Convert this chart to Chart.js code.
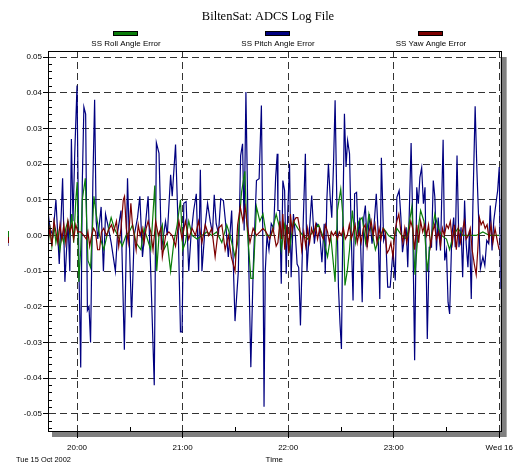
<!DOCTYPE html>
<html>
<head>
<meta charset="utf-8">
<script src="https://cdn.jsdelivr.net/npm/chart.js@4.4.1/dist/chart.umd.min.js"></script>
<style>
  html, body { margin: 0; padding: 0; background: #fff; }
  #wrap { width: 518px; height: 465px; }
</style>
</head>
<body>
<div id="wrap"><canvas id="adcs" width="518" height="465"></canvas></div>
<script>
// minutes relative to 20:00 on Tue 15 Oct 2002, angle errors in radians
const hourTicks = [0, 60, 120, 180, 240];
const hourLabels = ['20:00', '21:00', '22:00', '23:00', 'Wed 16'];
const errorTicks = [0.05, 0.04, 0.03, 0.02, 0.01, 0, -0.01, -0.02, -0.03, -0.04, -0.05];
const seriesNames = ['SS Roll Angle Error', 'SS Pitch Angle Error', 'SS Yaw Angle Error'];

const pitchTime = [-16.3, -15.4, -13.7, -12.0, -10.1, -8.2, -6.9, -5.1, -4.1, -3.2, -2.3, -1.3, 0, 1.1, 2.1, 3.0, 3.9, 4.9, 5.9, 6.8,
  7.7, 9.0, 10.0, 10.9, 11.8, 13.7, 15.0, 16.2, 17.5, 19.4, 21.8, 23.1, 25.0, 26.9, 28.7, 31.0, 32.5, 34.4, 35.7, 37.2,
  38.7, 40.4, 41.9, 43.9, 45.1, 46.6, 48.0, 50.3, 51.3, 53.2, 54.1, 56.0, 57.5, 58.8, 59.7, 60.7, 62.0, 63.5, 64.8, 66.3,
  67.8, 69.1, 70.1, 71.0, 72.9, 74.2, 75.7, 77.0, 78.0, 79.1, 80.4, 81.7, 83.2, 84.5, 86.0, 87.9, 89.8, 91.7, 93.0, 94.1,
  95.0, 96.0, 97.3, 98.8, 100.1, 102.0, 103.5, 104.8, 105.8, 106.3, 107.0, 108.0, 109.1, 110.4, 111.8, 112.9, 113.8, 114.2, 115.2, 116.1,
  117.0, 118.0, 118.9, 119.8, 120.8, 121.7, 123.0, 124.2, 125.1, 126.0, 127.0, 128.3, 129.8, 130.7, 132.1, 133.4, 134.9, 136.2, 137.7, 139.2,
  140.5, 141.1, 142.0, 142.9, 143.9, 144.8, 145.8, 146.7, 147.6, 148.6, 149.5, 150.3, 151.2, 152.0, 152.9, 153.8, 154.9, 155.9, 156.9, 157.8,
  158.9, 159.8, 160.8, 162.1, 163.0, 163.9, 164.9, 166.2, 167.7, 168.9, 170.1, 171.1, 172.1, 173.0, 174.3, 175.4, 176.6, 178.0, 179.6, 180.9,
  181.8, 183.1, 184.1, 185.0, 185.9, 187.1, 188.0, 189.0, 189.9, 190.8, 191.9, 193.1, 194.0, 194.9, 195.9, 196.9, 197.8, 199.1, 200.2, 201.5,
  202.5, 203.4, 204.3, 205.3, 206.6, 208.1, 209.0, 210.0, 210.9, 211.8, 213.0, 214.1, 215.0, 216.0, 217.1, 218.3, 219.2, 220.3, 221.2, 222.2,
  223.1, 224.1, 225.0, 226.3, 227.3, 228.4, 229.3, 230.7, 231.8, 232.9, 234.0, 234.9, 235.9, 236.9, 238.1, 239.1, 240.0, 240.8];
const pitchValue = [0.006, 0.002, 0.000, 0.010, -0.008, 0.016, -0.013, 0.004, -0.010, 0.027, 0.004, 0.023, 0.042, -0.010, -0.037, 0.015, 0.036, 0.034, -0.021, -0.020,
  -0.030, 0.015, 0.038, 0.004, -0.001, 0.008, -0.010, 0.006, 0.003, -0.002, -0.010, 0.001, 0.007, -0.032, 0.016, -0.023, 0.000, 0.005, 0.011, -0.006,
  0.002, 0.011, -0.010, -0.042, 0.026, 0.023, -0.004, 0.004, 0.000, 0.017, 0.011, 0.0255, 0.002, -0.027, -0.027, 0.009, 0.0095, -0.010, 0.000, 0.007,
  0.0117, -0.010, 0.0184, -0.010, 0.003, 0.009, 0.004, 0.0005, 0.0114, 0.0033, 0.0005, 0.0103, 0.0098, 0.0033, -0.006, 0.007, -0.024, -0.010, 0.0224, 0.0257,
  0.0014, 0.0402, -0.0005, -0.0369, -0.010, 0.0154, 0.0159, 0.0364, -0.010, -0.048, -0.010, 0.000, -0.004, 0.0033, 0.002, 0.0163, 0.0229, 0.007, 0.007, -0.0135,
  0.0154, 0.0126, -0.0107, 0.007, 0.0201, -0.0117, 0.006, -0.0005, -0.008, -0.009, -0.0252, -0.0005, 0.0229, -0.010, 0.0014, 0.0112, -0.0023, 0.0033, 0.0023, -0.0075,
  0.0033, -0.0107, 0.0098, 0.0201, 0.0107, 0.005, 0.020, 0.0379, 0.0117, -0.0145, -0.0248, -0.0318, 0.0079, 0.0341, 0.0192, 0.0266, 0.0229, -0.0005, -0.0182, 0.0117,
  0.0121, -0.0005, 0.005, -0.0187, 0.005, 0.0084, -0.0033, 0.006, -0.0023, 0.0033, 0.0117, 0.0014, -0.0178, 0.0218, -0.0014, 0.0005, -0.0145, -0.0145, -0.0042, -0.0126,
  0.0107, 0.0126, 0.005, -0.0047, -0.0014, 0.0023, -0.0089, 0.0089, 0.0259, 0.0042, -0.035, 0.0135, 0.0089, 0.0163, 0.019, 0.0089, 0.0135, -0.029, -0.0033, -0.0033,
  0.0154, 0.0107, -0.0042, 0.005, -0.0042, 0.0268, -0.007, -0.0042, -0.0187, -0.022, -0.0005, 0.005, -0.0033, 0.0224, -0.0033, 0.0023, -0.0117, 0.0098, -0.0023, -0.0089,
  0.0014, -0.0178, 0.0079, 0.0362, 0.0182, 0.0033, -0.0093, -0.006, -0.0084, -0.0014, -0.0023, 0.0084, -0.0042, 0.0042, 0.0089, 0.0126, 0.0192, -0.015];

const rollTime = [-16.3, -15.4, -14.3, -13.1, -12.0, -10.9, -9.7, -8.6, -7.5, -6.4, -5.2, -4.1, -3.0, -1.9, -0.7, 0.1, 1.0, 2.1, 3.0, 4.7,
  6.2, 7.7, 9.6, 10.9, 12.8, 15.2, 17.5, 19.4, 21.2, 23.1, 25.7, 27.8, 29.7, 31.6, 33.5, 36.3, 38.1, 40.0, 41.9, 44.2,
  45.3, 46.6, 48.5, 49.4, 51.3, 53.2, 55.0, 56.9, 58.8, 60.1, 61.6, 63.5, 65.4, 68.2, 71.0, 73.8, 76.6, 79.4, 82.3, 85.1,
  87.0, 89.8, 91.3, 93.5, 95.4, 96.3, 98.8, 100.1, 102.0, 103.9, 105.7, 107.6, 110.4, 113.2, 115.2, 116.1, 118.0, 120.8, 123.0, 125.5,
  128.3, 131.1, 133.9, 137.3, 139.6, 142.4, 144.2, 146.7, 148.0, 149.9, 151.2, 152.3, 153.6, 154.9, 156.5, 158.3, 160.2, 162.1, 164.0, 165.9,
  167.7, 169.6, 171.5, 174.3, 177.1, 180.0, 181.8, 184.6, 187.4, 190.3, 192.1, 194.0, 195.3, 197.2, 199.1, 200.6, 203.4, 205.3, 207.2, 210.0,
  211.8, 213.7, 216.6, 219.4, 223.1, 226.9, 230.7, 234.4, 238.2, 240.0];
const rollValue = [-0.002, 0.002, -0.003, 0.003, -0.002, 0.001, -0.004, 0.000, -0.002, 0.002, 0.004, 0.000, 0.006, -0.002, 0.010, 0.015, -0.013, -0.004, 0.010, 0.016,
  -0.007, -0.009, 0.011, 0.006, 0.000, -0.004, 0.001, 0.005, 0.002, 0.000, -0.003, 0.000, 0.001, 0.003, -0.002, -0.004, 0.002, -0.001, -0.004, 0.014,
  -0.010, 0.000, 0.003, -0.004, -0.002, -0.010, -0.002, 0.003, 0.010, -0.004, -0.002, 0.004, 0.000, -0.001, 0.000, 0.001, 0.000, 0.001, -0.002, 0.003,
  0.000, -0.006, -0.002, 0.012, 0.018, 0.005, -0.012, -0.012, 0.008, 0.004, 0.006, 0.000, 0.000, 0.006, 0.002, -0.004, 0.003, -0.004, 0.004, 0.002,
  0.000, -0.001, 0.001, 0.003, 0.000, -0.006, 0.000, -0.013, 0.007, 0.013, 0.005, -0.014, -0.010, -0.004, 0.007, -0.002, 0.004, 0.005, -0.002, 0.006,
  0.001, -0.004, -0.001, 0.002, 0.000, -0.001, 0.002, 0.000, -0.001, 0.008, -0.011, 0.002, 0.007, 0.004, -0.010, -0.003, 0.006, 0.002, 0.000, -0.001,
  -0.004, 0.000, 0.002, 0.000, 0.000, 0.000, 0.001, 0.000, 0.000, 0.000];

const yawTime = [-16.3, -15.4, -14.3, -13.1, -12.0, -10.9, -9.7, -8.6, -7.5, -6.4, -5.2, -4.1, -3.0, -1.9, -0.7, 0.4, 2.1, 3.8, 5.3, 6.2,
  7.2, 8.3, 9.4, 10.5, 11.7, 12.8, 13.9, 15.2, 16.7, 18.4, 19.6, 20.8, 22.4, 23.7, 25.0, 26.3, 27.0, 28.0, 29.1, 30.6,
  31.5, 32.5, 33.6, 34.8, 35.9, 37.0, 38.1, 39.3, 40.4, 41.9, 43.2, 44.7, 46.2, 47.7, 48.5, 50.4, 52.2, 54.1, 56.0, 57.9,
  59.7, 61.6, 63.5, 65.4, 67.3, 69.1, 71.0, 72.9, 74.8, 76.6, 78.5, 80.4, 82.3, 84.2, 86.0, 87.7, 89.8, 91.3, 92.8, 94.3,
  95.6, 96.7, 98.3, 100.1, 102.0, 103.9, 105.7, 107.4, 109.5, 111.4, 113.2, 114.2, 115.3, 116.3, 117.0, 118.1, 119.3, 120.4, 121.3, 122.3,
  123.2, 124.5, 125.5, 126.6, 127.7, 128.9, 130.0, 131.1, 132.2, 133.3, 134.5, 135.6, 136.7, 137.9, 139.0, 140.1, 141.2, 142.4, 143.5, 144.6,
  145.7, 146.9, 148.0, 149.1, 150.3, 151.4, 152.5, 153.6, 154.8, 155.9, 157.0, 158.1, 159.3, 160.4, 161.5, 162.7, 163.8, 164.9, 166.0, 167.2,
  168.3, 169.4, 170.5, 171.7, 172.8, 173.9, 175.1, 176.2, 177.3, 178.4, 179.6, 180.7, 181.8, 182.9, 184.1, 185.2, 186.3, 187.4, 188.6, 189.7,
  190.8, 191.9, 193.1, 194.2, 195.3, 196.5, 197.6, 198.7, 199.8, 201.0, 202.1, 203.2, 204.3, 205.5, 206.6, 207.7, 208.8, 210.0, 211.1, 212.2,
  213.4, 214.5, 215.6, 216.7, 217.9, 219.0, 220.1, 221.2, 222.4, 223.5, 224.6, 225.8, 226.9, 227.8, 228.7, 229.7, 230.8, 232.0, 233.1, 234.2,
  235.3, 236.4, 237.6, 238.7, 239.9];
const yawValue = [-0.001, 0.002, -0.003, 0.004, 0.001, -0.002, 0.003, -0.001, 0.003, -0.002, 0.004, 0.001, 0.003, -0.001, 0.003, 0.001, 0.001, 0.000, -0.001, 0.001,
  -0.003, 0.000, 0.002, 0.001, -0.004, -0.004, 0.001, 0.002, 0.000, 0.002, 0.003, 0.001, 0.004, -0.003, 0.002, 0.010, 0.011, 0.002, -0.002, 0.009,
  0.003, 0.000, -0.004, 0.003, 0.000, 0.002, -0.002, 0.002, 0.004, 0.001, -0.004, 0.004, 0.000, 0.002, -0.006, 0.000, 0.001, 0.000, -0.003, 0.004,
  -0.001, 0.004, -0.001, 0.002, 0.000, 0.004, -0.002, 0.003, 0.000, 0.002, -0.006, 0.002, 0.003, -0.004, 0.000, -0.006, -0.010, 0.003, 0.008, 0.004,
  0.008, 0.003, -0.002, 0.002, 0.000, 0.001, 0.002, 0.001, -0.001, 0.002, -0.003, -0.002, 0.004, -0.001, 0.006, -0.004, 0.003, -0.005, 0.006, 0.001,
  0.004, 0.005, 0.005, 0.002, -0.004, 0.001, -0.003, 0.002, -0.002, 0.002, 0.000, 0.003, -0.001, 0.002, 0.000, -0.001, 0.003, 0.001, -0.002, 0.001,
  0.000, 0.001, -0.001, 0.001, 0.000, 0.002, -0.001, 0.000, 0.003, -0.001, 0.001, 0.003, -0.002, 0.001, -0.002, 0.002, 0.003, -0.003, 0.001, 0.004,
  0.000, 0.003, -0.002, 0.002, -0.001, 0.002, 0.001, -0.005, -0.004, -0.002, -0.006, 0.001, 0.004, 0.006, 0.001, -0.002, 0.002, -0.002, 0.001, 0.004,
  0.002, -0.004, 0.003, -0.002, 0.004, 0.001, 0.003, 0.000, 0.003, -0.003, 0.001, 0.003, -0.001, 0.001, -0.003, 0.002, 0.000, 0.003, 0.002, 0.004,
  -0.002, 0.003, -0.004, 0.002, -0.002, 0.001, 0.004, -0.001, 0.000, 0.002, -0.004, -0.008, -0.011, -0.004, 0.005, 0.003, 0.004, 0.002, 0.003, -0.001,
  0.003, -0.002, 0.002, -0.001, -0.004];

const toPoints = (times, values) => times.map((t, i) => ({ x: t, y: values[i] }));

const FONT = '"Liberation Sans", Arial, sans-serif';
const COLORS = ['#0a7d0a', '#000080', '#7d0000'];

// shadowed plot frame, like the old logger output
const framePlugin = {
  id: 'frame',
  beforeDraw(chart) {
    const { ctx, chartArea: a } = chart;
    ctx.save();
    ctx.fillStyle = '#fff';
    ctx.fillRect(0, 0, chart.width, chart.height);
    ctx.fillStyle = '#808080';
    ctx.fillRect(a.left + 4, a.top + 6, a.right - a.left + 2, a.bottom - a.top);
    ctx.fillStyle = '#fff';
    ctx.fillRect(a.left, a.top, a.right - a.left, a.bottom - a.top);
    ctx.restore();
  },
  afterDraw(chart) {
    const { ctx, chartArea: a, scales } = chart;
    const y = scales.y, x = scales.x;
    ctx.save();
    ctx.strokeStyle = '#000';
    ctx.lineWidth = 1;
    ctx.strokeRect(Math.round(a.left) + 0.5, Math.round(a.top) + 0.5, Math.round(a.right - a.left), Math.round(a.bottom - a.top));

    // minor ticks
    ctx.beginPath();
    for (let k = -27; k <= 25; k++) {
      if (k % 5 === 0) continue;
      const py = Math.round(y.getPixelForValue(k * 0.002)) + 0.5;
      ctx.moveTo(a.left, py);
      ctx.lineTo(a.left + 4, py);
    }
    for (let m = 30; m < 240; m += 60) {
      const px = Math.round(x.getPixelForValue(m)) + 0.5;
      ctx.moveTo(px, a.bottom);
      ctx.lineTo(px, a.bottom - 4);
    }
    ctx.stroke();

    // title
    ctx.fillStyle = '#000';
    ctx.textAlign = 'center';
    ctx.textBaseline = 'middle';
    ctx.font = '12.5px "Liberation Serif", "Times New Roman", serif';
    ctx.fillText('BiltenSat: ADCS Log File', 268, 17);

    // legend: swatch above label
    const legendX = [125, 277, 430];
    ctx.font = '8px ' + FONT;
    seriesNames.forEach((name, i) => {
      ctx.fillStyle = COLORS[i];
      ctx.fillRect(legendX[i] - 11, 32, 23, 3);
      ctx.strokeStyle = '#000';
      ctx.strokeRect(legendX[i] - 11.5, 31.5, 24, 4);
      ctx.fillStyle = '#000';
      ctx.fillText(name, legendX[i] + 1, 43.5);
    });

    ctx.fillText('Time', (a.left + a.right) / 2, 460);
    ctx.textAlign = 'left';
    ctx.fillText('Tue 15 Oct 2002', 16, 460, 55);

    // stray axis-title mark on the left
    ctx.fillStyle = COLORS[0];
    ctx.fillRect(8, 231, 1, 6);
    ctx.fillStyle = COLORS[2];
    ctx.fillRect(8, 237, 1, 6);
    ctx.fillStyle = '#9090c0';
    ctx.fillRect(8, 243, 1, 3);
    ctx.restore();
  }
};

new Chart(document.getElementById('adcs'), {
  type: 'line',
  data: {
    datasets: [
      { label: seriesNames[0], data: toPoints(rollTime, rollValue), borderColor: COLORS[0], order: 2 },
      { label: seriesNames[1], data: toPoints(pitchTime, pitchValue), borderColor: COLORS[1], order: 3 },
      { label: seriesNames[2], data: toPoints(yawTime, yawValue), borderColor: COLORS[2], order: 1 }
    ]
  },
  options: {
    responsive: false,
    animation: false,
    devicePixelRatio: 1,
    elements: {
      line: { borderWidth: 1.2, tension: 0, fill: false },
      point: { radius: 0, hoverRadius: 0 }
    },
    layout: { padding: { top: 51, right: 13, left: 0, bottom: 0 } },
    plugins: { legend: { display: false }, tooltip: { enabled: false }, title: { display: false } },
    scales: {
      x: {
        type: 'linear',
        min: -16.5,
        max: 240.8,
        afterFit: s => { s.height = 34; },
        afterBuildTicks: s => { s.ticks = hourTicks.map(v => ({ value: v })); },
        ticks: {
          callback: (v, i) => hourLabels[i],
          font: { family: FONT, size: 8 },
          color: '#000',
          padding: 5,
          maxRotation: 0,
          autoSkip: false
        },
        grid: { color: '#333', lineWidth: 1, tickLength: 7, tickColor: '#000', borderDash: [7, 4] },
        border: { display: true, color: '#000', width: 1, dash: [7, 4] }
      },
      y: {
        min: -0.0548,
        max: 0.0517,
        afterFit: s => { s.width = 48; },
        afterBuildTicks: s => { s.ticks = errorTicks.map(v => ({ value: v })); },
        ticks: {
          callback: v => v.toFixed(2),
          font: { family: FONT, size: 8 },
          color: '#000',
          padding: 1,
          autoSkip: false
        },
        grid: { color: '#333', lineWidth: 1, tickLength: 5, tickColor: '#000', borderDash: [7, 4] },
        border: { display: true, color: '#000', width: 1, dash: [7, 4] }
      }
    }
  },
  plugins: [framePlugin]
});
</script>
</body>
</html>
